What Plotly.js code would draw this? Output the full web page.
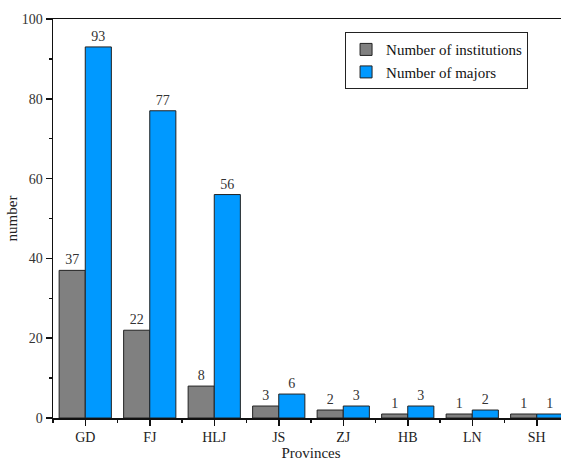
<!DOCTYPE html>
<html>
<head>
<meta charset="utf-8">
<script src="https://cdn.plot.ly/plotly-3.0.1.min.js"></script>
<style>
html,body{margin:0;padding:0;overflow:hidden;background:#fff;}
#chart{width:600px;height:461px;}
</style>
</head>
<body>
<div id="chart"></div>
<script>
const provinces = ["GD","FJ","HLJ","JS","ZJ","HB","LN","SH"];
const institutions = [37,22,8,3,2,1,1,1];
const majors = [93,77,56,6,3,3,2,1];

const idx = provinces.map((_, i) => i);
const font = "'Liberation Serif', 'Times New Roman', serif";

const traces = [
  {
    type: "bar", name: "Number of institutions", x: idx, y: institutions,
    marker: {color: "#808080", line: {color: "#222", width: 1}},
    text: institutions.map(String), textposition: "outside", cliponaxis: false,
    textfont: {family: font, size: 14, color: "#333"}
  },
  {
    type: "bar", name: "Number of majors", x: idx, y: majors,
    marker: {color: "#0099ff", line: {color: "#222", width: 1}},
    text: majors.map(String), textposition: "outside", cliponaxis: false,
    textfont: {family: font, size: 14, color: "#333"}
  }
];

const layout = {
  width: 600, height: 461,
  margin: {l: 53, r: 31, t: 19, b: 43},
  paper_bgcolor: "#fff", plot_bgcolor: "#fff",
  barmode: "group", bargap: 0.19, bargroupgap: 0,
  font: {family: font, color: "#222"},
  showlegend: true,
  legend: {
    x: 0.566, y: 0.967, xanchor: "left", yanchor: "top",
    bordercolor: "#222", borderwidth: 1, bgcolor: "#fff",
    font: {family: font, size: 15, color: "#111"},
    tracegroupgap: 0, itemwidth: 30
  },
  xaxis: {
    range: [-0.5, 7.5], tickmode: "array", tickvals: idx, ticktext: provinces,
    showgrid: false, zeroline: false,
    showline: true, linecolor: "#111", linewidth: 1.5, mirror: true,
    ticks: "outside", ticklen: 6, tickwidth: 1.5, tickcolor: "#111",
    minor: {tickmode: "linear", tick0: 0.5, dtick: 1, ticks: "outside", ticklen: 3, tickwidth: 1.5, tickcolor: "#111"},
    tickfont: {family: font, size: 14, color: "#222"},
    title: {text: "Provinces", font: {family: font, size: 15, color: "#222"}, standoff: 12}
  },
  yaxis: {
    range: [0, 100], tickmode: "linear", tick0: 0, dtick: 20,
    showgrid: false, zeroline: false,
    showline: true, linecolor: "#111", linewidth: 1.5, mirror: true,
    ticks: "outside", ticklen: 6, tickwidth: 1.5, tickcolor: "#111",
    minor: {tickmode: "linear", tick0: 0, dtick: 10, ticks: "outside", ticklen: 3, tickwidth: 1.5, tickcolor: "#111"},
    tickfont: {family: font, size: 14, color: "#333"},
    title: {text: "number", font: {family: font, size: 15, color: "#222"}, standoff: 0}
  }
};

Plotly.newPlot("chart", traces, layout, {displayModeBar: false, staticPlot: true});
</script>
</body>
</html>
